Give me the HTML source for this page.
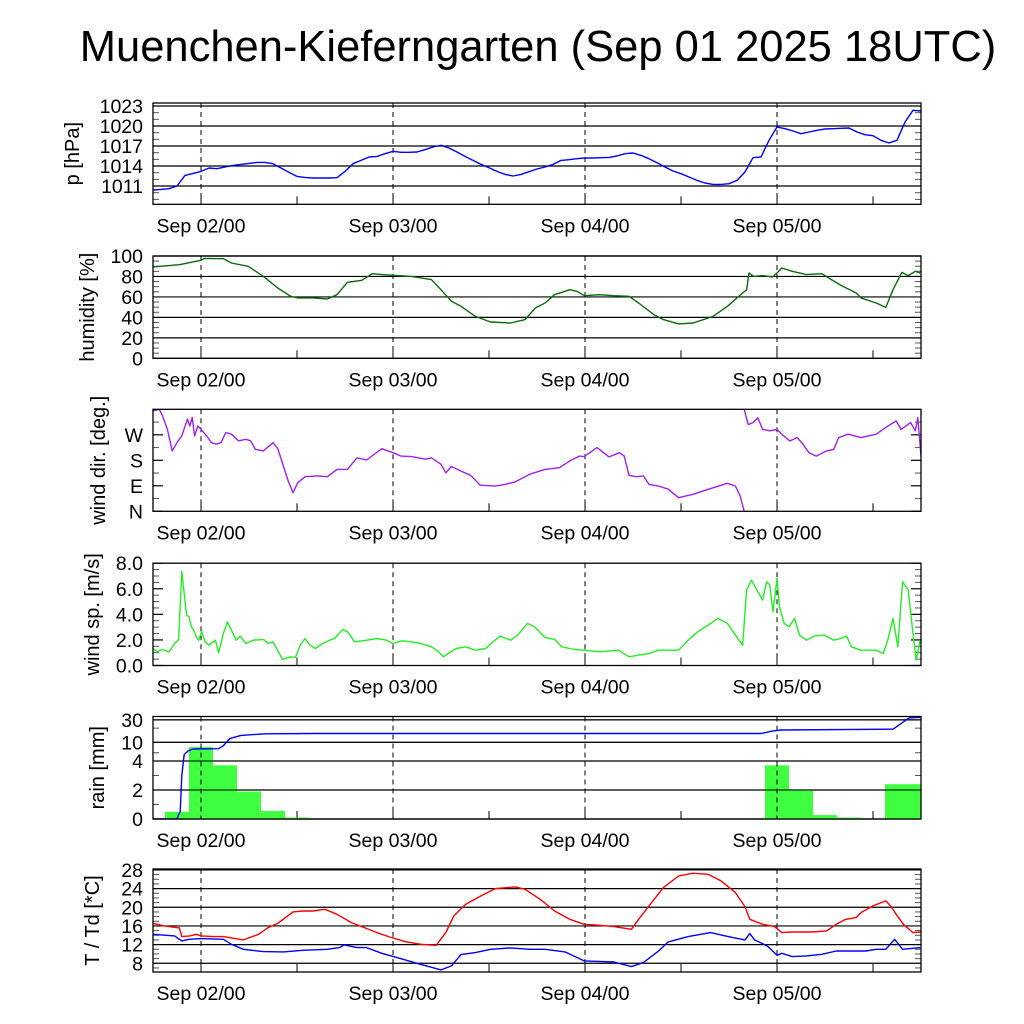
<!DOCTYPE html>
<html><head><meta charset="utf-8"><style>
html,body{margin:0;padding:0;background:#fff;}
svg{display:block;font-family:"Liberation Sans",sans-serif;}
</style></head><body>
<svg id="chart" width="1024" height="1024" viewBox="0 0 1024 1024" xmlns="http://www.w3.org/2000/svg">
<text x="538" y="61" font-size="43.5" text-anchor="middle">Muenchen-Kieferngarten (Sep 01 2025 18UTC)</text>
</svg>
<script>
// ---------- data ----------
const dayLabels=["Sep 02/00","Sep 03/00","Sep 04/00","Sep 05/00"];
const dayHours=[6,30,54,78];
const pressure=[1010.4,1010.5,1010.6,1011.0,1012.6,1012.9,1013.2,1013.7,1013.6,1013.85,1014.1,1014.25,1014.4,1014.55,1014.55,1014.35,1013.7,1013.05,1012.45,1012.3,1012.2,1012.2,1012.2,1012.25,1013.2,1014.35,1014.85,1015.35,1015.45,1015.85,1016.2,1016.05,1016.05,1016.1,1016.45,1016.85,1017.1,1016.7,1016.1,1015.45,1014.85,1014.25,1013.75,1013.2,1012.75,1012.5,1012.75,1013.15,1013.55,1013.85,1014.25,1014.85,1014.95,1015.1,1015.2,1015.2,1015.25,1015.3,1015.5,1015.85,1015.95,1015.6,1015.1,1014.5,1013.85,1013.25,1012.85,1012.35,1011.85,1011.45,1011.25,1011.25,1011.35,1011.85,1013.1,1015.25,1015.35,1017.85,1019.85,1019.6,1019.25,1018.85,1019.1,1019.35,1019.55,1019.6,1019.65,1019.7,1019.1,1018.7,1018.55,1017.85,1017.45,1017.85,1020.6,1022.35,1022.25];
const humT=[0,3.3,6,6.4,8.8,9.8,11.9,13.8,15.6,17.2,18.1,20,21.8,23,24.3,26.1,27.4,28.6,30,32.3,34.8,36,37.3,38.5,40.3,42.2,44.7,46.5,47.8,49,50.2,52.1,53,53.9,55.8,57.6,59.5,60.7,62.6,63.8,65.7,67.5,70,71.8,73.7,74.2,74.5,75.1,76.2,77.4,78,78.6,79.9,81.7,83.6,84.8,86,87.9,88.5,90.4,91.6,92.5,93.6,94.4,95.3,95.9];
const humV=[89.3,91.5,95.8,97.7,97.4,93.2,89.9,80.1,68.7,60.6,59,59,58,62.2,74.3,76.2,82.7,81.8,81.1,80.1,76.9,67.1,55.7,50.8,41,35.5,34.5,37.8,49.2,54.1,62.2,67.1,65.5,61.2,62.2,61.2,60.6,54.1,42.7,37.8,33.6,34.5,41,50.8,63.8,67.1,83.4,80.1,80.8,79.5,83.4,88.3,85,81.8,82.7,76.9,71.3,63.8,59,54.1,49.8,67.1,84,80.8,85,83.4];
const dirT=[0,0.8,1.2,1.8,2.4,3,3.6,4.3,4.6,4.9,5.2,5.6,6,6.7,7.3,7.9,8.5,9.1,9.8,10.7,11.6,12.2,12.8,13.8,15,15.6,16.3,16.9,17.5,18.1,19,20.6,21.8,23,24.3,25.5,26.7,28.6,30,31,32.3,34.1,34.8,36,36.6,37.3,38.5,39.7,40.9,42.8,44,45.3,47.1,49,50.8,52.1,53.3,53.9,55.5,57,58.3,58.9,59.5,60.4,61.3,62,63.2,64.4,65.7,67.5,70,71.8,72.8,73.4,73.9,73.9,74.4,75,75.6,76.2,77.1,78,78.6,79.6,80.5,81.1,82,82.9,84.2,85.1,85.7,86.9,88.5,90.4,91.6,92.9,93.5,94.7,95.3,95.6,96];
const dirV=[354,360,336,289,213,242,266,325,301,331,266,301,289,266,242,237,242,278,272,249,254,249,219,213,242,221,160,107,66,101,122,125,122,148,148,189,181,221,207,195,193,184,189,166,136,158,142,127,92,89,95,104,131,148,154,178,195,193,225,192,207,195,127,122,125,95,89,78,48,60,83,99,89,54,0,360,306,313,330,289,284,289,272,248,260,242,207,195,213,219,260,272,260,272,296,319,289,313,284,331,195];
const spdT=[0,0.5,1.1,2,2.7,3.2,3.6,3.9,4.2,4.5,4.8,5.1,5.4,5.7,6.1,6.5,7,7.8,8.2,8.8,9.3,9.8,10.4,10.9,11.6,12.5,13.8,14.4,15,15.6,16.2,17.2,17.8,18.4,19,19.6,20.3,21.2,22.1,22.7,23.7,24.3,25.2,26.7,28,29.2,30,31.1,32.3,33.5,34.8,35.7,36.3,36.9,37.9,39.1,40.3,41.6,42.5,43.4,44.7,45.6,46.8,47.7,49,50.2,51.1,52.7,53.9,55.8,58.2,59.5,60.7,62,63.2,64.4,65.7,66.9,68.1,69.4,70.6,71.8,73.1,73.7,74.2,74.8,75.5,76.2,76.7,77.1,77.5,78,78.3,78.9,79.5,80.2,80.8,81.7,82.6,83.9,85.1,86,86.7,87.3,88.5,90.4,91.3,91.9,92.5,93.1,93.7,94.4,95,95.4,95.9];
const spdV=[1.33,1.07,1.25,1.07,1.72,2.04,7.34,5.64,3.94,3.81,3.03,2.77,2.25,1.98,2.64,1.85,1.59,1.98,0.99,2.51,3.42,2.77,1.98,2.3,1.72,1.98,2.04,1.72,1.85,1.15,0.47,0.68,0.63,1.59,2.11,1.59,1.33,1.72,1.98,2.11,2.82,2.64,1.85,1.98,2.11,1.98,1.72,1.93,1.85,1.72,1.46,1.07,0.68,0.94,1.33,1.46,1.2,1.33,1.85,2.3,1.98,2.38,3.29,3.03,2.19,2.04,1.46,1.25,1.2,1.07,1.2,0.68,0.81,0.94,1.2,1.2,1.2,1.98,2.64,3.16,3.68,3.29,2.11,1.59,5.9,6.68,5.9,5.12,6.55,6.29,4.2,6.81,4.6,3.29,3.03,3.68,2.38,1.98,2.3,2.38,1.98,2.11,2.3,1.46,1.2,1.2,0.94,2.11,3.68,1.46,6.55,5.9,2.51,0.42,1.98];
const rainHours=[3,6,9,12,15,18,78,81,84,87,93,96];
const rainAmounts=[0.5,7.9,3.7,1.9,0.55,0.1,3.7,2.0,0.27,0.1,2.4,2.4];
const cumT=[0,3.0,3.2,3.4,3.6,3.9,4.4,5,8.2,8.8,9.6,11,14,20,76,77.5,78.5,92.5,94.5,96];
const cumV=[0,0,0.3,0.5,3,5.5,6.6,7.2,7.3,8.5,12,14,15.2,15.4,15.4,17.5,18.3,19,33,34];
const tT=[0,1.4,3.3,3.6,4.6,5.4,6,7.6,8.8,11.3,13.2,14.4,15.6,17.5,18.7,20,21.5,23,24.8,26.1,28,29.8,31.7,33.5,35.4,36.6,37.6,39.1,41,42.8,45.3,46.5,48.4,50.2,52.1,53.9,55.8,57.6,59.8,60.7,62,63.8,65.7,67.5,69.4,71,72.8,74,74.6,76.2,77.7,78.6,79.8,82.3,84.2,85.4,86.6,87.9,88.5,90,91.6,92.2,92.9,93.8,95,96];
const tV=[16.57,16,15.57,13.71,13.86,14.21,13.86,13.71,13.71,13,14.21,15.64,16.57,19,19.21,19.21,19.57,18.5,16.71,15.86,14.57,13.5,12.57,12.07,11.86,14.57,18.14,20.64,22.43,24,24.36,23.86,21.71,19.21,17.43,16.36,16.14,15.86,15.29,17.43,20.29,24.21,26.71,27.29,27.07,25.64,23.14,20.14,17.43,16.36,15.86,14.57,14.71,14.71,14.93,16.36,17.43,17.79,18.86,20.29,21.36,20.29,18.5,16.36,14.57,14.71];
const tdT=[0,2.7,3.6,4.5,6,8.8,9.8,11.3,13.8,16.3,18.7,21.8,23.3,23.9,25.5,26.7,28.6,30.5,33,36,37.3,38.5,40.3,42.2,44.7,47.1,49,51.5,53.9,57.6,59.8,61.3,63.2,64.4,66.9,69.7,71.2,72.5,74,74.6,75.2,76.8,78,78.6,79.9,81.7,83.6,85.4,87.3,89.1,90.4,91.6,92.7,93.7,95.9];
const tdV=[14.21,13.86,12.79,13.14,13.29,13.14,12.07,11,10.5,10.43,10.79,11,11.36,11.93,11.36,11.36,10.14,9.21,8,6.57,7.43,9.86,10.29,11,11.29,11,11,10.43,8.5,8.29,7.29,8.14,10.64,12.57,13.71,14.57,14,13.5,13,14.36,13,11.71,9.71,10.14,9.43,9.57,9.93,10.64,10.64,10.64,11,11,13.14,11,11.36];
// ---------- helpers ----------
const NS="http://www.w3.org/2000/svg";
const svg=document.getElementById('chart');
const X0=153,X1=921;
const FS=19.5;
function x(t){return X0+(X1-X0)*t/96;}
function mk(tag,attrs,parent){const e=document.createElementNS(NS,tag);for(const k in attrs)e.setAttribute(k,attrs[k]);(parent||svg).appendChild(e);return e;}
function linY(min,max,top,bot){return v=>bot-(v-min)/(max-min)*(bot-top);}
function rainY(v){const bot=819;if(v<=4)return bot-v*14.5;return bot-58-47*Math.log10(v/4);}
const panels=[
 {name:'pressure',top:103,bot:204.3,y:linY(1008.26,1023.45,103,204.3),ticks:[1023,1020,1017,1014,1011],labels:["1023","1020","1017","1014","1011"],minor:[1009,1010,1012,1013,1015,1016,1018,1019,1021,1022],title:"p [hPa]",tx:73},
 {name:'humidity',top:256,bot:358.3,y:linY(0,100,256,358.3),ticks:[100,80,60,40,20,0],labels:["100","80","60","40","20","0"],minor:[5,10,15,25,30,35,45,50,55,65,70,75,85,90,95],title:"humidity [%]",tx:88},
 {name:'wind-dir',top:409.3,bot:511.3,y:linY(0,360,409.3,511.3),ticks:[270,180,90,0],labels:["W","S","E","N"],minor:[45,135,225,315],title:"wind dir. [deg.]",tx:99,noGrid:true},
 {name:'wind-speed',top:563.2,bot:665.5,y:linY(0,8,563.2,665.5),ticks:[8,6,4,2,0],labels:["8.0","6.0","4.0","2.0","0.0"],minor:[0.5,1,1.5,2.5,3,3.5,4.5,5,5.5,6.5,7,7.5],title:"wind sp. [m/s]",tx:93,noGrid:true},
 {name:'rain',top:716.5,bot:819,y:rainY,ticks:[30,10,4,2,0],labels:["30","10","4","2","0"],minor:[1,3,6,20],title:"rain [mm]",tx:98},
 {name:'temperature',top:869,bot:972,y:linY(6.13,28.2,869,972),ticks:[28,24,20,16,12,8],labels:["28","24","20","16","12","8"],minor:[7,9,10,11,13,14,15,17,18,19,21,22,23,25,26,27],title:"T / Td [*C]",tx:93}
];
function drawPanel(p,i){
 const g=mk('g',{});
 
 
 const cp=mk('clipPath',{id:'cp'+i},g);
 mk('rect',{x:X0,y:p.top,width:X1-X0,height:p.bot-p.top},cp);
 p.ticks.forEach((v,k)=>{
  const yy=p.y(v);
  if(!p.noGrid){const l=mk('line',{x1:X0,x2:X1,y1:yy,y2:yy,stroke:'#000','stroke-width':1.2},g);
   }
  else{mk('line',{x1:X0,x2:X0+10,y1:yy,y2:yy,stroke:'#000','stroke-width':1.2},g);mk('line',{x1:X1-10,x2:X1,y1:yy,y2:yy,stroke:'#000','stroke-width':1.2},g);}
  const t=mk('text',{x:143,y:yy+7,'font-size':FS,'text-anchor':'end'},g);
  
  t.textContent=p.labels[k];
 });
 p.minor.forEach(v=>{const yy=p.y(v);
  mk('line',{x1:X0,x2:X0+6,y1:yy,y2:yy,stroke:'#555','stroke-width':1},g);
  mk('line',{x1:X1-6,x2:X1,y1:yy,y2:yy,stroke:'#555','stroke-width':1},g);});
 dayHours.forEach((h,k)=>{
  const xx=x(h);
  const d=mk('line',{x1:xx,x2:xx,y1:p.top,y2:p.bot,stroke:'#000','stroke-width':1,'stroke-dasharray':'5,4'},g);
  
  mk('line',{x1:xx,x2:xx,y1:p.bot-10,y2:p.bot,stroke:'#000','stroke-width':1},g);
  const xm=x(h+12);mk('line',{x1:xm,x2:xm,y1:p.bot-8,y2:p.bot,stroke:'#000','stroke-width':1},g);
  const t=mk('text',{x:xx,y:p.bot+28,'font-size':FS,'text-anchor':'middle'},g);
  
  t.textContent=dayLabels[k];
 });
 const tt=mk('text',{x:p.tx,y:(p.top+p.bot)/2,'font-size':20,'text-anchor':'middle','dominant-baseline':'central',transform:`rotate(-90 ${p.tx} ${(p.top+p.bot)/2})`},g);
 
 tt.textContent=p.title;
 p.g=g;p.clip='url(#cp'+i+')';
}
function frame(p){const r=mk('rect',{x:X0,y:p.top,width:X1-X0,height:p.bot-p.top,fill:'none',stroke:'#000','stroke-width':1.3},p.g);
 }
function line(p,ts,vs,color,name,breakWrap){
 let d='',prev=null;
 ts.forEach((t,k)=>{const v=vs[k];
  const cmd=(prev===null||(breakWrap&&Math.abs(v-prev)>180))?'M':'L';
  d+=cmd+x(t).toFixed(1)+','+p.y(v).toFixed(1)+' ';prev=v;});
 const e=mk('path',{d:d,fill:'none',stroke:color,'stroke-width':1.4,'clip-path':p.clip,'stroke-linejoin':'round'},p.g);
 
}
panels.forEach(drawPanel);
line(panels[0],pressure.map((v,i)=>i),pressure,'#0000ff','pressure-line');
line(panels[1],humT,humV,'#0a6b0a','humidity-line');
line(panels[2],dirT,dirV,'#a020f0','wind-direction-line',true);
line(panels[3],spdT,spdV,'#22ee22','wind-speed-line');
const rp=panels[4];
rainHours.forEach((h,k)=>{
 const y0=rp.y(rainAmounts[k]);
 const b=mk('rect',{x:x(h-1.5),y:y0,width:x(h+1.5)-x(h-1.5),height:rp.bot-y0,fill:'#40ff40','clip-path':rp.clip},rp.g);
 
});
dayHours.forEach(h=>{mk('line',{x1:x(h),x2:x(h),y1:rp.top,y2:rp.bot,stroke:'#000','stroke-width':1,'stroke-dasharray':'5,4'},rp.g);});
[0,2,4,10,30].forEach(v=>{mk('line',{x1:X0,x2:X1,y1:rp.y(v),y2:rp.y(v),stroke:'#000','stroke-width':1},rp.g);});
line(rp,cumT,cumV,'#0000ff','cumulative-rain-line');
line(panels[5],tT,tV,'#ff0000','temperature-line');
line(panels[5],tdT,tdV,'#0000ff','dewpoint-line');
panels.forEach(frame);
</script>
</body></html>
